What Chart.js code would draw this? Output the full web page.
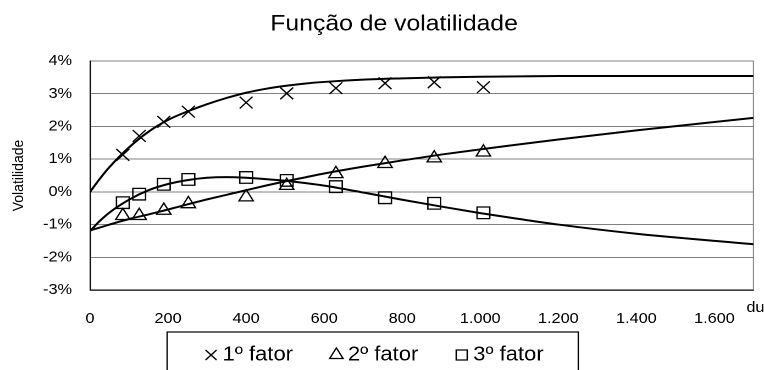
<!DOCTYPE html>
<html><head><meta charset="utf-8">
<script src="https://cdn.jsdelivr.net/npm/chart.js@4.4.0/dist/chart.umd.min.js"></script>
<style>
html,body{margin:0;padding:0;background:#fff;overflow:hidden}
#c{display:block;width:764px !important;height:370px !important}
</style></head><body>
<canvas id="c" width="695" height="370"></canvas>
<script>
// ---- data ----
const chartTitle = 'Função de volatilidade';
const seriesNames = ['1º fator', '2º fator', '3º fator'];
const markerDu = [84, 126, 189, 252, 400, 504, 630, 756, 882, 1008];
const factor1 = [1.13, 1.71, 2.14, 2.45, 2.73, 3.01, 3.17, 3.32, 3.35, 3.20];
const factor2 = [-0.73, -0.73, -0.57, -0.37, -0.16, 0.19, 0.55, 0.86, 1.03, 1.21];
const factor3 = [-0.33, -0.07, 0.23, 0.38, 0.44, 0.35, 0.16, -0.18, -0.35, -0.64];
const curveDu = [0, 25, 50, 100, 150, 200, 250, 300, 350, 400, 450, 500, 550, 600, 700, 800, 900, 1000, 1100, 1200, 1400, 1700];
const curve1 = [0.00, 0.40, 0.76, 1.36, 1.84, 2.20, 2.46, 2.68, 2.87, 3.03, 3.15, 3.24, 3.31, 3.36, 3.43, 3.47, 3.50, 3.52, 3.53, 3.54, 3.54, 3.54];
const curve2 = [-1.18, -1.09, -1.00, -0.83, -0.69, -0.54, -0.38, -0.23, -0.09, 0.05, 0.19, 0.32, 0.44, 0.56, 0.77, 0.96, 1.14, 1.30, 1.45, 1.60, 1.88, 2.26];
const curve3 = [-1.20, -0.89, -0.63, -0.24, 0.05, 0.24, 0.36, 0.43, 0.45, 0.43, 0.39, 0.34, 0.27, 0.19, -0.02, -0.24, -0.45, -0.65, -0.83, -1.00, -1.28, -1.60];
const xTickLabels = ['0', '200', '400', '600', '800', '1.000', '1.200', '1.400', '1.600'];
const yTickLabels = ['-3%', '-2%', '-1%', '0%', '1%', '2%', '3%', '4%'];
const xAxisTitle = 'du';
const yAxisTitle = 'Volatilidade';

// ---- chart ----
Chart.defaults.font.family = '"Liberation Sans", Arial, sans-serif';
Chart.defaults.color = '#000';

const pts = (xs, ys) => xs.map((x, i) => ({x: x, y: ys[i]}));
const markerStyles = ['crossRot', 'triangle', 'rect'];
const markerRadius = [8.3, 7.5, 8.2];

const markerSets = [factor1, factor2, factor3].map((ys, i) => ({
  label: seriesNames[i],
  data: pts(markerDu, ys),
  showLine: false,
  pointStyle: markerStyles[i],
  pointRadius: markerRadius[i],
  pointBorderWidth: 1.3,
  pointBorderColor: '#000',
  pointBackgroundColor: 'rgba(0,0,0,0)',
  borderColor: '#000',
  backgroundColor: 'rgba(0,0,0,0)',
  borderWidth: 1.3,
  order: 0
}));
const curveSets = [curve1, curve2, curve3].map((ys) => ({
  label: '',
  data: pts(curveDu, ys),
  showLine: true,
  pointRadius: 0,
  borderColor: '#000',
  borderWidth: 2,
  cubicInterpolationMode: 'monotone',
  fill: false,
  order: 1
}));

const framePlugin = {
  id: 'frame',
  afterLayout(chart) {
    if (chart.titleBlock) { chart.titleBlock.left += 31; }
    const lg = chart.legend;
    if (lg) { lg.top -= 24; lg.bottom -= 24; }
    const xs = chart.scales.x;
    if (xs && !xs._titleShifted) {
      const orig = xs.drawTitle.bind(xs);
      xs.drawTitle = function () {
        const ctx = this.ctx;
        ctx.save();
        ctx.translate(10, 0);
        orig();
        ctx.restore();
      };
      xs._titleShifted = true;
    }
  },
  beforeDatasetsDraw(chart) {
    const {ctx, chartArea: a} = chart;
    ctx.save();
    ctx.strokeStyle = '#808080';
    ctx.lineWidth = 1;
    ctx.beginPath();
    ctx.moveTo(a.right, a.top);
    ctx.lineTo(a.right, a.bottom);
    ctx.stroke();
    ctx.restore();
  },
  afterDraw(chart) {
    const lg = chart.legend;
    if (!lg || !lg.legendHitBoxes || !lg.legendHitBoxes.length) return;
    const hb = lg.legendHitBoxes;
    const l = hb[0].left - 39.5;
    const last = hb[hb.length - 1];
    const r = last.left + last.width + 31.5;
    const t = lg.top + 26;
    const ctx = chart.ctx;
    ctx.save();
    ctx.strokeStyle = '#000';
    ctx.lineWidth = 1.2;
    ctx.strokeRect(l, t, r - l, 120);
    ctx.restore();
  }
};

new Chart(document.getElementById('c'), {
  type: 'scatter',
  data: {datasets: markerSets.concat(curveSets)},
  plugins: [framePlugin],
  options: {
    responsive: false,
    animation: false,
    devicePixelRatio: 2,
    events: [],
    layout: {padding: {left: 0, right: 9, top: 0, bottom: -29}},
    plugins: {
      title: {
        display: true, text: chartTitle, color: '#000',
        font: {size: 22.5, weight: 'normal'},
        padding: {top: 11, bottom: 23}
      },
      legend: {
        position: 'bottom',
        labels: {
          usePointStyle: true, boxWidth: 1, boxHeight: 10, padding: 39,
          font: {size: 20}, color: '#000',
          filter: (item) => item.datasetIndex < 3
        }
      },
      tooltip: {enabled: false}
    },
    scales: {
      x: {
        type: 'linear', min: 0, max: 1700,
        ticks: {
          stepSize: 200, includeBounds: false, padding: 20.1, autoSkip: false,
          maxRotation: 0, font: {size: 14.8}, color: '#000',
          callback: (v, i) => xTickLabels[i]
        },
        grid: {display: false, drawTicks: false},
        border: {display: true, color: '#000', width: 1.3},
        title: {display: true, text: xAxisTitle, align: 'end', color: '#000',
                font: {size: 14.8}, padding: {top: 0, bottom: 13.1}},
        afterFit: (s) => { s.height = 40; }
      },
      y: {
        min: -3, max: 4,
        ticks: {
          stepSize: 1, padding: 16.4, font: {size: 14.8}, color: '#000',
          callback: (v, i) => yTickLabels[i]
        },
        grid: {
          color: (c) => (c.tick && c.tick.value === -3) ? 'rgba(0,0,0,0)' : '#808080',
          lineWidth: 1, drawTicks: false
        },
        border: {display: true, color: '#000', width: 1.3},
        title: {display: true, text: yAxisTitle, color: '#000',
                font: {size: 14}, padding: {top: 8.9, bottom: 0}},
        afterFit: (s) => { s.width = 81.9; }
      }
    }
  }
});
</script>
</body></html>
